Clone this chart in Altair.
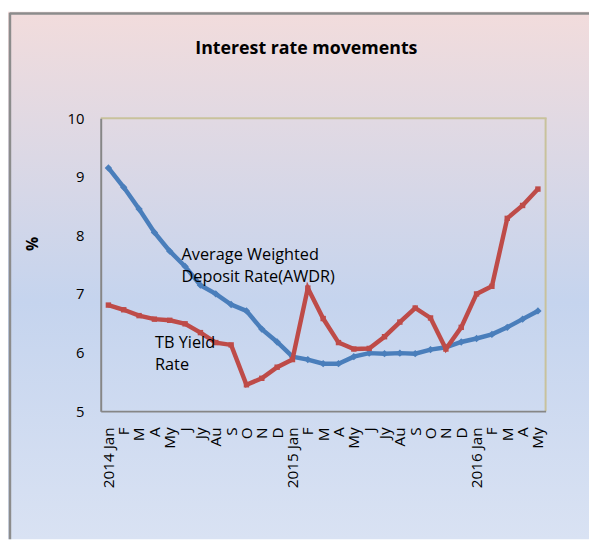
import altair as alt
import pandas as pd

months = ["2014 Jan", "F", "M", "A", "My", "J", "Jy", "Au", "S", "O", "N", "D",
          "2015 Jan", "F", "M", "A", "My", "J", "Jy", "Au", "S", "O", "N", "D",
          "2016 Jan", "F", "M", "A", "My"]
awdr = [9.15, 8.82, 8.45, 8.05, 7.73, 7.47, 7.15, 7.00, 6.82, 6.71, 6.40, 6.18,
        5.93, 5.88, 5.81, 5.81, 5.93, 5.99, 5.98, 5.99, 5.98, 6.05, 6.09, 6.18,
        6.24, 6.31, 6.43, 6.57, 6.71]
tb = [6.81, 6.73, 6.63, 6.57, 6.55, 6.49, 6.34, 6.17, 6.13, 5.45, 5.56, 5.75,
      5.88, 7.10, 6.58, 6.17, 6.06, 6.07, 6.27, 6.52, 6.76, 6.59, 6.06, 6.43,
      7.00, 7.13, 8.29, 8.51, 8.79]

ann_text = ["Average Weighted", "Deposit Rate(AWDR)", "TB Yield", "Rate"]
ann_i = [4.77, 4.77, 3.04, 3.04]
ann_v = [7.58, 7.20, 6.08, 5.71]

W, H = 451, 297
PAD = {"left": 94, "top": 108, "right": 44, "bottom": 130}
TOTAL_W = PAD["left"] + W + PAD["right"]
TOTAL_H = PAD["top"] + H + PAD["bottom"]

idx = list(range(len(months)))
df_awdr = pd.DataFrame({"i": idx, "v": awdr})
df_tb = pd.DataFrame({"i": idx, "v": tb})
df_ann = pd.DataFrame({"t": ann_text, "i": ann_i, "v": ann_v})
one = pd.DataFrame({"a": [0]})

label_expr = "[" + ",".join("'" + m + "'" for m in months) + "][datum.value]"

xscale = alt.Scale(domain=[-0.5, len(months) - 0.5], nice=False, zero=False)
yscale = alt.Scale(domain=[5, 10], nice=False, zero=False)

x_axis = alt.Axis(values=idx, labelExpr=label_expr, labelAngle=-90,
                  labelAlign="right", labelBaseline="middle", labelFontSize=15.5,
                  labelPadding=16, labelOverlap=False, labelBound=False,
                  title=None, labelFlush=False, zindex=2, ticks=False,
                  domainColor="#868686", domainWidth=2)
y_axis = alt.Axis(values=[5, 6, 7, 8, 9, 10], format="d", title="%",
                  titleFontWeight="bold", titleFontSize=16,
                  titleX=-61, titleY=127, labelPadding=17,
                  zindex=2, ticks=False, labelOverlap=False,
                  domainColor="#868686", domainWidth=2)
x_enc = alt.X("i:Q", scale=xscale, axis=x_axis)
y_enc = alt.Y("v:Q", scale=yscale, axis=y_axis)

grad = alt.LinearGradient(
    gradient="linear",
    stops=[alt.GradientStop(color="#f2dcdc", offset=0),
           alt.GradientStop(color="#c5d4ee", offset=0.55),
           alt.GradientStop(color="#d9e2f3", offset=1)],
    x1=0, x2=0, y1=0, y2=1)

bg = alt.Chart(one).mark_rect(fill=grad, strokeWidth=0).encode(
    x=alt.value(-PAD["left"]), x2=alt.value(TOTAL_W - PAD["left"]),
    y=alt.value(-PAD["top"]), y2=alt.value(TOTAL_H - PAD["top"]))

outer_top = alt.Chart(one).mark_rule(color="#8c8c8c", strokeWidth=2.5).encode(
    x=alt.value(-PAD["left"] + 1.5), x2=alt.value(TOTAL_W - PAD["left"]),
    y=alt.value(-PAD["top"] + 2))
outer_left = alt.Chart(one).mark_rule(color="#8c8c8c", strokeWidth=2.5).encode(
    x=alt.value(-PAD["left"] + 2), y=alt.value(-PAD["top"] + 1.5),
    y2=alt.value(TOTAL_H - PAD["top"]))

plot_top = alt.Chart(one).mark_rule(color="#c8c29c", strokeWidth=2).encode(
    x=alt.value(0), x2=alt.value(W + 1), y=alt.value(0))
plot_right = alt.Chart(one).mark_rule(color="#c8c29c", strokeWidth=2).encode(
    x=alt.value(W), y=alt.value(0), y2=alt.value(H))

blue = "#4a7ebb"
red = "#be4b48"

awdr_line = alt.Chart(df_awdr).mark_line(color=blue, strokeWidth=4.5).encode(x=x_enc, y=y_enc)
awdr_pts = alt.Chart(df_awdr).mark_point(shape="diamond", filled=True, color=blue,
                                         size=55, opacity=1).encode(x=x_enc, y=y_enc)
tb_line = alt.Chart(df_tb).mark_line(color=red, strokeWidth=4.5).encode(x=x_enc, y=y_enc)
tb_pts = alt.Chart(df_tb).mark_point(shape="square", filled=True, color=red,
                                     size=30, opacity=1).encode(x=x_enc, y=y_enc)

ann = alt.Chart(df_ann).mark_text(align="left", baseline="alphabetic",
                                  font="Open Sans", fontSize=16.5, color="black").encode(
    x=x_enc, y=y_enc, text="t:N")

chart = alt.layer(
    bg, outer_top, outer_left, plot_top, plot_right,
    awdr_line, awdr_pts, tb_line, tb_pts, ann
).properties(
    width=W, height=H,
    autosize=alt.AutoSizeParams(type="none"),
    padding=PAD,
    title=alt.TitleParams("Interest rate movements", font="Open Sans", fontSize=18,
                          fontWeight="bold", color="black", anchor="middle",
                          frame="group", dx=-17, offset=-47),
).configure_view(stroke="transparent").configure_axis(
    labelFont="Open Sans", labelFontSize=15, labelColor="black",
    titleFont="Open Sans", titleColor="black",
    domainColor="#868686", domainWidth=2, ticks=False, grid=False, zindex=2
).configure_axisX(labelOverlap=False)

chart.save("out.html", embed_options={"renderer": "svg", "actions": False})
